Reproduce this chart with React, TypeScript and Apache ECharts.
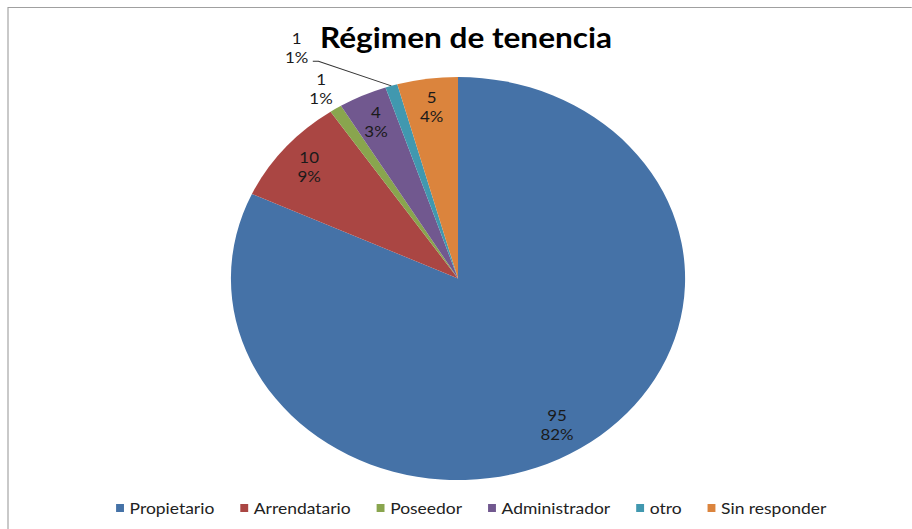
import React, { useEffect, useRef } from "react";
import * as echarts from "echarts";

const categories = ["Propietario", "Arrendatario", "Poseedor", "Administrador", "otro", "Sin responder"];
const values = [95, 10, 1, 4, 1, 5];
const colors = ["#4572A7", "#AA4643", "#89A54E", "#71588F", "#4198AF", "#DB843D"];
const titleText = "Régimen de tenencia";

const SX = 1.127;
const W = 809;
const H = 529;
const CX = 406.4;
const CY = 278.5;
const R = 201.5;
const START = 90;
const labelRadius = [0.845, 0.86, 1.12, 0.86, 1.35, 0.86];
const labelAngleShift = [-1.5, 0, 0, 0, 14.7, 0];
const FONT = "Lato, 'Open Sans', sans-serif";

export default function App() {
  const ref = useRef<HTMLDivElement>(null);
  useEffect(() => {
    const el = ref.current!;
    const chart = echarts.init(el, null, { renderer: "svg" });
    const total = values.reduce((a, b) => a + b, 0);
    const mids: number[] = [];
    let acc = 0;
    values.forEach((v) => {
      mids.push(START - ((acc + v / 2) / total) * 360);
      acc += v;
    });
    const rad = (d: number) => (d * Math.PI) / 180;

    const data = categories.map((name, i) => {
      const outside = i === 2 || i === 4;
      return {
        name,
        value: values[i],
        itemStyle: { color: colors[i] },
        label: { position: outside ? "outside" : "inside" },
        labelLine: { show: i === 4, length: 5, length2: 5 },
      };
    });

    const option = {
      animation: false,
      backgroundColor: "#ffffff",
      title: {
        text: titleText,
        left: 413.5,
        textAlign: "center",
        top: 23,
        padding: 0,
        textStyle: { fontFamily: FONT, fontWeight: "bold", fontSize: 28, color: "#000000" },
      },
      legend: {
        left: 98,
        top: 495,
        icon: "rect",
        itemWidth: 7,
        itemHeight: 8,
        itemGap: 23,
        textStyle: { fontFamily: FONT, fontSize: 15.5, color: "#222222" },
        data: categories,
      },
      graphic: [
        {
          type: "rect",
          z: -1,
          silent: true,
          shape: { x: 7.1, y: 7.5, width: W, height: H },
          style: { fill: "none", stroke: "#a0a0a0", lineWidth: 1 },
        },
      ],
      series: [
        {
          type: "pie",
          center: [CX, CY],
          radius: R,
          startAngle: START,
          clockwise: true,
          percentPrecision: 0,
          avoidLabelOverlap: false,
          data,
          label: {
            show: true,
            formatter: "{c}\n{d}%",
            fontFamily: FONT,
            fontSize: 15,
            lineHeight: 19,
            color: "#1a1a1a",
          },
          labelLine: { lineStyle: { color: "#333333", width: 1 } },
          labelLayout: (p: any) => {
            const i = p.dataIndex;
            const a = rad(mids[i] + labelAngleShift[i]);
            const x = CX + labelRadius[i] * R * Math.cos(a);
            const y = CY - labelRadius[i] * R * Math.sin(a);
            const res: any = { x, y, align: "center", verticalAlign: "middle" };
            if (i === 4) {
              const am = rad(mids[i]);
              const ex = CX + R * Math.cos(am);
              const ey = CY - R * Math.sin(am);
              const sx = x + p.labelRect.width / 2 + 4;
              const sy = y + 14;
              res.labelLinePoints = [
                [sx, sy],
                [sx + 5, sy],
                [ex, ey],
              ];
            }
            return res;
          },
          itemStyle: { borderWidth: 0 },
          emphasis: { disabled: true },
        },
      ],
    };
    chart.setOption(option as any);
    return () => chart.dispose();
  }, []);
  return (
    <div
      ref={ref}
      style={{
        position: "absolute",
        left: 0,
        top: 0,
        width: W,
        height: H,
        transform: `scaleX(${SX})`,
        transformOrigin: "0 0",
      }}
    />
  );
}
